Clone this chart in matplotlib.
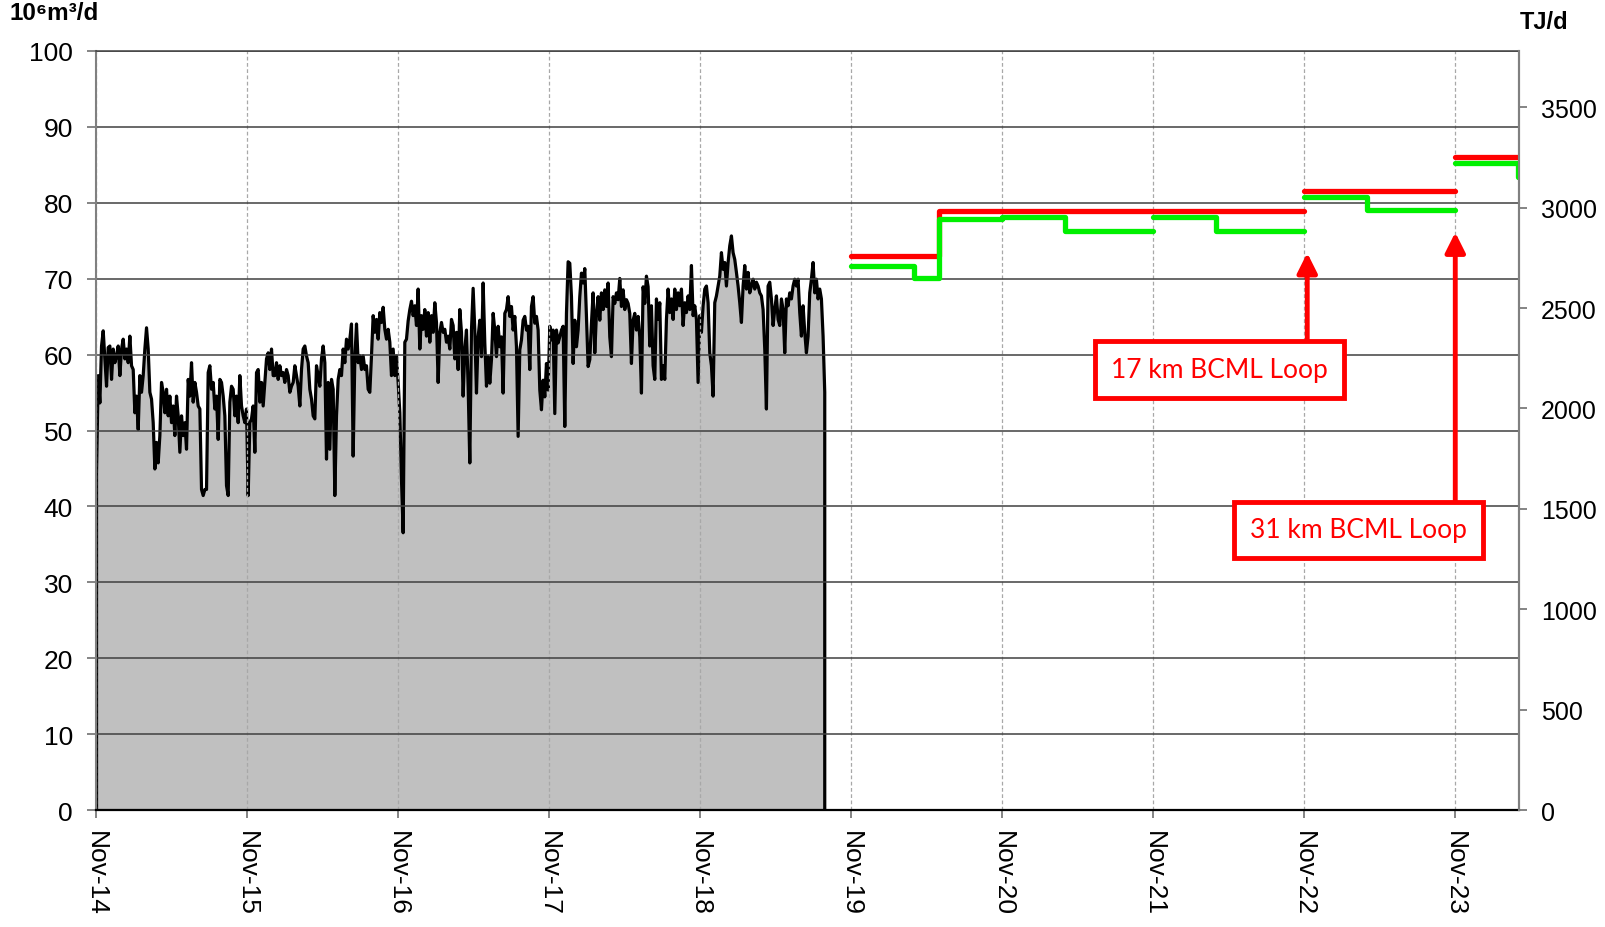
import numpy as np
import pandas as pd
import matplotlib
matplotlib.use('Agg')
import matplotlib.pyplot as plt
import matplotlib.dates as mdates

plt.rcParams['font.family'] = ['Liberation Sans', 'DejaVu Sans']

hist_start = '2014-11-01'
hist_end = '2019-08-28'
flow_hist = [
    44.5, 57.3, 53.7, 61.2, 63.2, 59.5, 55.9, 61.0, 61.2, 56.8, 60.8, 59.0, 59.9, 61.2, 57.3, 60.8,
    62.1, 59.5, 60.8, 59.0, 62.5, 58.6, 58.1, 52.4, 54.6, 50.2, 57.3, 55.1, 57.3, 60.8, 63.6, 60.8,
    55.1, 54.2, 51.1, 45.0, 48.5, 45.8, 49.4, 56.4, 55.1, 52.4, 55.5, 52.0, 54.6, 51.1, 53.3, 49.4,
    54.6, 52.0, 47.2, 52.0, 49.4, 51.1, 47.6, 56.8, 54.6, 59.0, 53.8, 56.4, 55.1, 53.3, 52.9, 42.3,
    41.5, 42.3, 42.3, 57.7, 58.6, 55.5, 56.4, 52.9, 54.6, 48.9, 56.8, 56.4, 54.6, 52.0, 42.8, 41.5,
    53.8, 55.9, 55.5, 52.0, 54.6, 51.1, 57.3, 53.3, 52.0, 51.1, 52.9, 41.5, 51.1, 51.6, 53.3, 47.2,
    57.7, 58.1, 53.8, 56.4, 53.3, 56.4, 59.5, 60.3, 58.1, 60.8, 57.3,
    57.3, 59.0, 56.8, 58.6, 57.3, 57.7, 56.4, 58.1, 57.3, 55.1, 55.9, 56.4, 58.6, 57.3, 55.9, 53.3,
    58.1, 60.8, 61.2, 59.9, 59.0, 55.5, 54.2, 52.0, 51.6, 58.6, 57.3, 55.9, 59.5, 61.2, 59.0, 46.3,
    56.4, 47.6, 56.8, 55.5, 41.5, 52.0, 56.8, 58.1, 57.3, 60.8, 59.0, 62.1, 60.8, 62.1, 64.1, 46.7,
    59.5, 64.1, 59.0, 59.9, 58.1, 59.9, 58.1, 58.6, 55.5, 55.1, 59.9, 65.2, 63.0, 64.7, 62.1, 65.6,
    64.3, 66.3, 63.4, 62.1, 63.4, 61.7, 57.3, 60.8, 57.3, 59.9, 56.4, 52.4, 43.6, 36.6, 61.7, 62.1,
    64.5, 66.0, 67.1, 65.2, 66.5, 63.9, 68.7, 60.8, 65.2, 63.4, 66.0, 62.5, 65.6, 61.7, 65.2, 63.0,
    66.9, 64.3, 56.4, 63.0, 64.3, 63.0, 63.4, 61.7, 62.5, 60.8, 64.7, 63.9, 59.5, 63.0, 58.1, 66.0,
    63.0, 54.6,
    60.7, 63.3, 55.9, 45.8, 63.3, 68.8, 63.3, 55.0, 62.4, 64.6, 59.8, 69.5, 61.6, 55.9, 59.8, 56.3,
    59.4, 65.5, 63.3, 59.8, 63.8, 61.1, 62.4, 55.0, 65.5, 66.0, 67.7, 65.1, 66.4, 63.3, 65.1, 61.1,
    49.3, 60.7, 62.0, 64.6, 65.1, 63.3, 63.8, 58.1, 66.4, 67.7, 64.2, 65.1, 63.3, 55.4, 52.8, 56.7,
    54.5, 58.9, 55.4, 63.8, 62.0, 63.3, 52.3, 63.3, 61.6, 62.4, 63.3, 63.8, 50.6, 65.5, 72.3, 72.1,
    67.7, 58.9, 64.6, 61.1, 63.3, 67.7, 70.8, 69.5, 71.4, 65.1, 58.5, 59.4, 64.2, 68.2, 60.3, 65.5,
    67.7, 64.6, 68.2, 66.0, 68.6, 66.4, 69.5, 62.4, 59.8, 67.7, 66.8, 68.2, 67.3, 70.1, 66.4, 68.6,
    66.0, 67.3, 66.8, 65.5, 58.9, 64.6, 65.5, 63.3, 65.1, 62.4, 55.0, 69.0, 66.8, 70.4, 69.0,
    61.2, 66.5, 58.6, 56.8, 67.4, 64.7, 66.9, 56.8, 58.6, 56.8, 64.7, 68.7, 65.6, 67.4, 64.7, 68.7,
    66.0, 68.2, 66.5, 68.7, 63.9, 66.9, 65.6, 67.8, 66.0, 71.8, 65.2, 66.5, 64.7, 56.4, 65.2, 63.0,
    66.5, 68.7, 69.1, 66.9, 60.3, 58.6, 54.6, 66.9, 67.8, 69.1, 70.4, 73.5, 71.3, 72.2, 69.1, 72.2,
    74.4, 75.7, 73.5, 72.6, 70.9, 69.1, 66.9, 64.3, 69.1, 71.8, 68.7, 70.9, 68.2, 69.1, 70.0, 68.7,
    69.6, 69.1, 68.2, 67.8, 66.0, 60.8, 52.9, 69.1, 69.6, 67.4, 63.9, 66.0, 67.8, 64.7, 63.9, 67.4,
    66.0, 60.3, 67.4, 66.5, 68.2, 67.4, 69.1, 70.0, 69.1, 70.0, 65.6, 62.5, 66.5, 63.0, 60.3, 62.5,
    68.2, 70.0, 72.2, 68.2, 70.0, 67.4, 68.7, 67.4, 62.5, 55.1,
]

# forecast steps (red / green), one list per gas-year block
red_dates = [['2019-11-01', '2020-06-01', '2022-11-01'],
             ['2022-11-01', '2023-11-01'],
             ['2023-11-01', '2024-11-01']]
red_vals = [[73.0, 78.9, 78.9],
            [81.6, 81.6],
            [86.0, 86.0]]

green_dates = [['2019-11-01', '2020-04-01', '2020-06-01', '2020-11-01', '2021-04-01', '2021-11-01'],
               ['2021-11-01', '2022-04-01', '2022-11-01'],
               ['2022-11-01', '2023-04-01', '2023-11-01'],
               ['2023-11-01', '2024-04-01', '2024-11-01']]
green_vals = [[71.7, 70.1, 77.8, 78.1, 76.3, 76.3],
              [78.1, 76.3, 76.3],
              [80.8, 79.1, 79.1],
              [85.2, 83.4, 83.4]]

# annotations: text, box centre, arrow from / to
notes = ['17 km BCML Loop', '31 km BCML Loop']
note_xy = [('2022-04-10', 58.0), ('2023-03-12', 36.9)]
arrow_x = ['2022-11-08', '2023-11-01']
arrow_y0 = [61.8, 40.6]
arrow_y1 = [73.4, 76.1]

year_ticks = pd.date_range('2014-11-01', '2023-11-01', freq='12MS')
tj_per_unit = 37.8

fig = plt.figure(figsize=(16.06, 9.28), dpi=100)
ax = fig.add_axes([0.0598, 0.126, 0.8860, 0.818])

#----- storico
x_hist = pd.date_range(hist_start, hist_end, periods=len(flow_hist))
ax.fill_between(x_hist, flow_hist, 0, facecolor='#c0c0c0', edgecolor='black',
                linewidth=2.3, zorder=1)

#----- previsioni
for d, v in zip(red_dates, red_vals):
    ax.plot(pd.to_datetime(d), v, color='#ff0000', lw=3.8, drawstyle='steps-post',
            solid_capstyle='round', zorder=3)
for d, v in zip(green_dates, green_vals):
    ax.plot(pd.to_datetime(d), v, color='#00f000', lw=3.8, drawstyle='steps-post',
            solid_capstyle='round', zorder=4)

#----- frecce e box
for t, (bx, by), axx, y0, y1 in zip(notes, note_xy, arrow_x, arrow_y0, arrow_y1):
    ax.annotate('', xy=(pd.Timestamp(axx), y1), xytext=(pd.Timestamp(axx), y0),
                arrowprops=dict(arrowstyle='-|>', color='#ff0000', lw=3.5,
                                mutation_scale=30, shrinkA=0, shrinkB=0), zorder=5)
    ax.text(pd.Timestamp(bx), by, t, color='#ff0000', fontsize=19, family=['Lato', 'DejaVu Sans'],
            ha='center', va='center', zorder=6,
            bbox=dict(boxstyle='square,pad=0.6', facecolor='white', edgecolor='#ff0000', lw=3.5))

ax.set_xlim(pd.Timestamp('2014-11-01'), pd.Timestamp('2024-04-03'))
ax.set_ylim(0, 100)
ax.set_yticks(np.arange(0, 101, 10))
ax.set_xticks(year_ticks)
ax.xaxis.set_major_formatter(mdates.DateFormatter('Nov-%y'))
plt.setp(ax.get_xticklabels(), rotation=270, ha='center', va='top')

ax.yaxis.grid(True, color='#404040', lw=1.1, linestyle='-')
ax.xaxis.grid(True, color='#a8a8a8', lw=0.9, linestyle=(0, (3, 2)))
ax.set_axisbelow('line')

ax.tick_params(axis='y', labelsize=19, length=6.5, width=1.2, color='#707070', pad=10)
ax.tick_params(axis='x', labelsize=19, length=5.5, width=1.2, color='#707070', pad=9)

for s in ['left', 'right']:
    ax.spines[s].set_color('#808080')
    ax.spines[s].set_linewidth(1.5)
ax.spines['top'].set_color('#404040')
ax.spines['top'].set_linewidth(1.1)
ax.spines['bottom'].set_color('black')
ax.spines['bottom'].set_linewidth(1.6)

#----- asse destro TJ/d
ax2 = ax.twinx()
ax2.set_ylim(0, 100 * tj_per_unit)
ax2.set_yticks(np.arange(0, 3501, 500))
ax2.tick_params(axis='y', labelsize=18, length=6, width=1.2, color='#707070', pad=10)
for s in ['left', 'top', 'bottom']:
    ax2.spines[s].set_visible(False)
ax2.spines['right'].set_color('#808080')
ax2.spines['right'].set_linewidth(1.5)

fig.text(0.006, 0.985, '10\u2076m\u00b3/d', fontsize=17.5, fontweight='bold', ha='left', va='center')
fig.text(0.9765, 0.976, 'TJ/d', fontsize=17, fontweight='bold', ha='right', va='center')

fig.savefig('out.png', dpi=100)
